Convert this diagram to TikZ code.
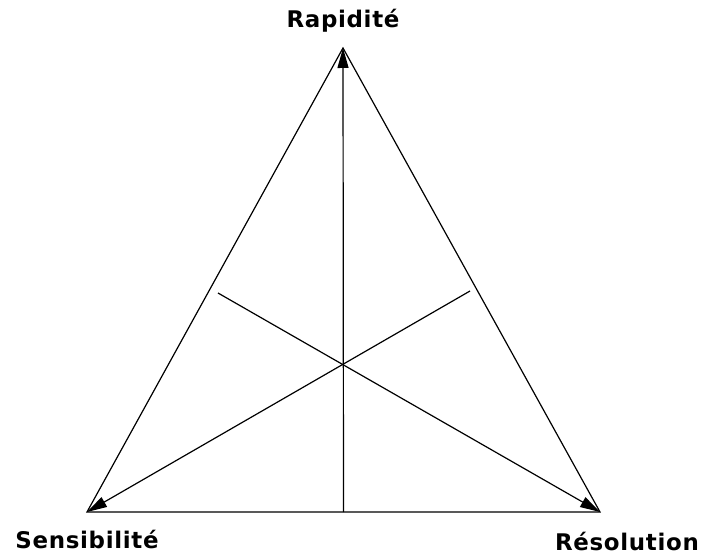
\documentclass[tikz,border=0pt]{standalone}
\usepackage{fontspec}
\newfontfamily\lblfont{DejaVu Sans}[LetterSpace=3]
\usetikzlibrary{arrows.meta}
\begin{document}
\begin{tikzpicture}[x=1bp,y=-1bp,line width=1.2bp,
  edge/.style={draw=black},
  axis/.style={draw=black,-{Triangle[length=20bp,width=11bp]}},
  lbl/.style={font=\lblfont\bfseries\fontsize{23}{27}\selectfont,inner sep=0pt,anchor=base}]
\useasboundingbox (0,0) rectangle (702,555);
\coordinate (A) at (343,48);
\coordinate (B) at (87,512);
\coordinate (C) at (600,512);
\coordinate (M) at (343.5,512);
\coordinate (L) at (218,293);
\coordinate (R) at (470,291);
\draw[edge] (A) -- (B) -- (C) -- cycle;
\draw[axis] (M) -- (A);
\draw[axis] (R) -- (B);
\draw[axis] (L) -- (C);
\node[lbl] (rap) at (343,28) {Rapidité};
\node[lbl] (sen) at (87,548) {Sensibilité};
\node[lbl] (res) at (627,550) {Résolution};
\end{tikzpicture}
\end{document}
